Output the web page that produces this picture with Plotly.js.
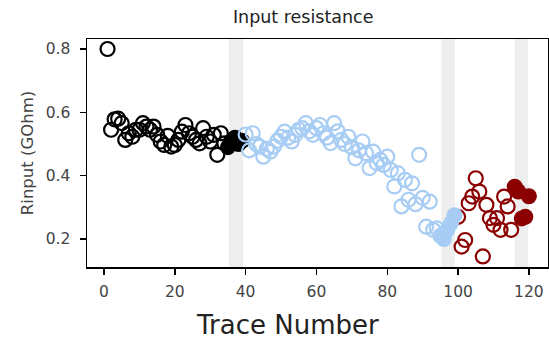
<!DOCTYPE html>
<html>
<head>
<meta charset="utf-8">
<script src="https://cdn.plot.ly/plotly-3.0.1.min.js"></script>
<style>html,body{margin:0;padding:0;background:#fff;}#chart{width:549px;height:342px;}</style>
</head>
<body>
<div id="chart"></div>
<script>
// ---- data ----
const blackOpenX = [1,2,3,4,5,6,7,8,9,10,11,12,13,14,15,16,17,18,19,20,21,22,23,24,25,26,27,28,29,30,31,32,33,34];
const blackOpenY = [0.80,0.545,0.578,0.58,0.566,0.513,0.534,0.523,0.545,0.545,0.566,0.555,0.545,0.555,0.529,0.508,0.497,0.526,0.492,0.497,0.513,0.539,0.56,0.534,0.523,0.513,0.502,0.55,0.523,0.508,0.529,0.466,0.534,0.502];
const blackFillX = [35,36,37,38,39];
const blackFillY = [0.49,0.51,0.52,0.50,0.51];

const blueOpenX = [40,41,42,43,44,45,46,47,48,49,50,51,52,53,54,55,56,57,58,59,60,61,62,63,64,65,66,67,68,69,70,71,72,73,74,75,76,77,78,79,80,81,82,83,84,85,86,87,88,89,90,91,92,93,94];
const blueOpenY = [0.53,0.48,0.534,0.50,0.492,0.46,0.485,0.476,0.492,0.51,0.523,0.539,0.52,0.508,0.529,0.545,0.55,0.566,0.54,0.529,0.55,0.56,0.534,0.52,0.503,0.566,0.54,0.513,0.50,0.523,0.49,0.455,0.48,0.508,0.471,0.424,0.476,0.44,0.45,0.434,0.46,0.418,0.366,0.408,0.303,0.387,0.324,0.376,0.31,0.466,0.33,0.239,0.318,0.229,0.234];
const blueFillX = [95,96,97,98,99];
const blueFillY = [0.21,0.20,0.23,0.25,0.275];

const redOpenX = [100,101,102,103,104,105,106,107,108,109,110,111,112,113,114,115];
const redOpenY = [0.27,0.176,0.197,0.313,0.334,0.392,0.35,0.145,0.308,0.266,0.245,0.266,0.229,0.334,0.303,0.229];
const redFillX = [116,117,118,119,120];
const redFillY = [0.365,0.35,0.265,0.27,0.335];

const bandStart = [35.3, 95.3, 116.0];
const bandEnd   = [39.3, 99.1, 119.8];

const BLACK = '#000000', BLUE = '#a8cdf4', RED = '#8b0000';

function openTrace(x, y, c) {
  return {x: x, y: y, type: 'scatter', mode: 'markers', hoverinfo: 'skip',
    marker: {symbol: 'circle-open', size: 14, color: c, line: {width: 2.2, color: c}}};
}
function fillTrace(x, y, c) {
  return {x: x, y: y, type: 'scatter', mode: 'markers', hoverinfo: 'skip',
    marker: {symbol: 'circle', size: 16, color: c, line: {width: 0}}};
}

const data = [
  openTrace(blackOpenX, blackOpenY, BLACK),
  fillTrace(blackFillX, blackFillY, BLACK),
  openTrace(blueOpenX, blueOpenY, BLUE),
  openTrace(redOpenX, redOpenY, RED),
  fillTrace(blueFillX, blueFillY, BLUE),
  fillTrace(redFillX, redFillY, RED)
];

const shapes = bandStart.map((s, i) => ({
  type: 'rect', xref: 'x', yref: 'paper', x0: s, x1: bandEnd[i], y0: 0, y1: 1,
  fillcolor: '#eeeeee', line: {width: 0}, layer: 'below'
}));

const layout = {
  width: 549, height: 342,
  margin: {l: 87, r: 1, t: 39, b: 75},
  paper_bgcolor: '#ffffff', plot_bgcolor: '#ffffff',
  showlegend: false,
  font: {family: 'DejaVu Sans, sans-serif', color: '#444444'},
  title: {text: 'Input resistance', x: 0.469, xref: 'paper', xanchor: 'center', y: 0.95, yref: 'container', yanchor: 'middle',
          font: {size: 17.5, color: '#222222', family: 'DejaVu Sans, sans-serif'}},
  xaxis: {
    range: [-4.8, 125.4], tickvals: [0,20,40,60,80,100,120],
    ticks: 'outside', ticklen: 6, tickwidth: 1.5, tickcolor: '#000',
    showline: true, linecolor: '#000', linewidth: 1.5, mirror: true,
    showgrid: false, zeroline: false, ticklabelstandoff: 4,
    tickfont: {size: 15.5, color: '#444444'}
  },
  yaxis: {
    range: [0.1117, 0.8316], tickvals: [0.2,0.4,0.6,0.8], ticktext: ['0.2','0.4','0.6','0.8'],
    ticks: 'outside', ticklen: 6, tickwidth: 1.5, tickcolor: '#000',
    showline: true, linecolor: '#000', linewidth: 1.5, mirror: true,
    showgrid: false, zeroline: false, ticklabelstandoff: 6,
    tickfont: {size: 15.5, color: '#444444'},
    title: {text: 'Rinput (GOhm)', standoff: 8, font: {size: 16.5, color: '#444444', family: 'DejaVu Sans, sans-serif'}}
  },
  annotations: [{
    text: 'Trace Number', xref: 'paper', yref: 'paper', x: 0.434, y: -0.254,
    xanchor: 'center', yanchor: 'middle', showarrow: false,
    font: {size: 26, color: '#222222', family: 'DejaVu Sans, sans-serif'}
  }],
  shapes: shapes
};

Plotly.newPlot('chart', data, layout, {staticPlot: true, displayModeBar: false});
</script>
</body>
</html>
